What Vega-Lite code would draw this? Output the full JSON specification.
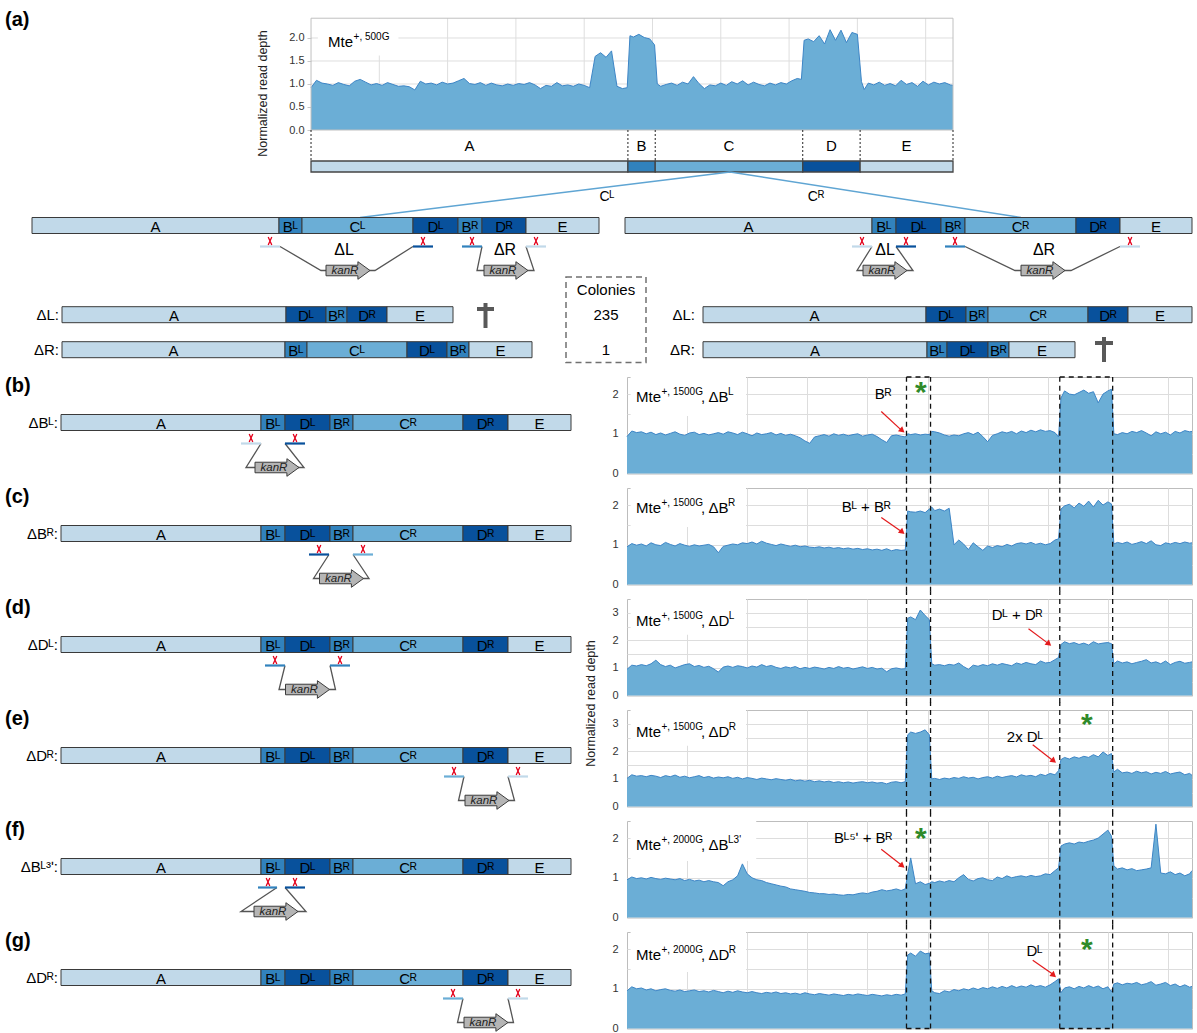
{
"$schema":"https://vega.github.io/schema/vega-lite/v6.json",
"padding":0,
"background":"white",
"config":{"font":"Liberation Sans","view":{"stroke":null},"axis":{"labelFontSize":11,"labelColor":"#333","gridColor":"#dddddd","domain":false,"ticks":false,"labelFont":"Liberation Sans"},"text":{"fontSize":15}},
"datasets":{
"ca":[{"x":0,"y":0.92},{"x":8,"y":1.08},{"x":16,"y":1.02},{"x":24,"y":1.0},{"x":32,"y":0.97},{"x":40,"y":1.03},{"x":48,"y":0.99},{"x":56,"y":0.96},{"x":64,"y":1.06},{"x":72,"y":1.1},{"x":80,"y":1.04},{"x":88,"y":0.98},{"x":96,"y":1.01},{"x":104,"y":0.97},{"x":112,"y":1.03},{"x":120,"y":0.99},{"x":128,"y":0.95},{"x":136,"y":0.96},{"x":144,"y":0.94},{"x":152,"y":0.87},{"x":160,"y":1.06},{"x":168,"y":1.0},{"x":176,"y":1.02},{"x":184,"y":0.98},{"x":192,"y":1.04},{"x":200,"y":1.0},{"x":208,"y":1.02},{"x":216,"y":1.07},{"x":224,"y":1.12},{"x":232,"y":1.01},{"x":240,"y":0.99},{"x":248,"y":1.03},{"x":256,"y":0.97},{"x":264,"y":1.02},{"x":272,"y":0.98},{"x":280,"y":0.96},{"x":288,"y":1.0},{"x":296,"y":0.97},{"x":304,"y":1.01},{"x":312,"y":0.99},{"x":320,"y":1.03},{"x":328,"y":0.98},{"x":336,"y":0.9},{"x":344,"y":0.97},{"x":352,"y":0.95},{"x":360,"y":1.03},{"x":368,"y":0.96},{"x":376,"y":0.98},{"x":384,"y":0.95},{"x":392,"y":1.0},{"x":400,"y":0.97},{"x":408,"y":0.92},{"x":416,"y":1.6},{"x":424,"y":1.68},{"x":432,"y":1.58},{"x":440,"y":1.72},{"x":448,"y":0.95},{"x":456,"y":0.9},{"x":463,"y":0.92},{"x":467,"y":2.05},{"x":472,"y":2.02},{"x":480,"y":2.08},{"x":488,"y":2.01},{"x":496,"y":1.98},{"x":503,"y":1.85},{"x":507,"y":1.0},{"x":512,"y":0.95},{"x":520,"y":0.99},{"x":528,"y":1.02},{"x":536,"y":0.97},{"x":544,"y":1.04},{"x":552,"y":1.0},{"x":560,"y":1.16},{"x":568,"y":1.01},{"x":576,"y":0.9},{"x":584,"y":0.98},{"x":592,"y":0.96},{"x":600,"y":1.02},{"x":608,"y":0.97},{"x":616,"y":1.05},{"x":624,"y":1.0},{"x":632,"y":1.07},{"x":640,"y":0.98},{"x":648,"y":1.04},{"x":656,"y":0.99},{"x":664,"y":0.96},{"x":672,"y":1.02},{"x":680,"y":0.98},{"x":688,"y":1.03},{"x":696,"y":1.0},{"x":704,"y":1.07},{"x":712,"y":1.12},{"x":718,"y":1.1},{"x":722,"y":1.95},{"x":728,"y":1.98},{"x":736,"y":1.92},{"x":744,"y":2.05},{"x":752,"y":1.87},{"x":760,"y":2.18},{"x":768,"y":1.95},{"x":776,"y":2.17},{"x":784,"y":1.9},{"x":792,"y":2.12},{"x":800,"y":2.08},{"x":806,"y":1.05},{"x":810,"y":0.88},{"x":816,"y":1.02},{"x":824,"y":0.98},{"x":832,"y":1.04},{"x":840,"y":0.97},{"x":848,"y":1.01},{"x":856,"y":0.96},{"x":864,"y":1.08},{"x":872,"y":0.99},{"x":880,"y":1.03},{"x":888,"y":0.95},{"x":896,"y":1.06},{"x":904,"y":0.98},{"x":912,"y":1.04},{"x":920,"y":1.0},{"x":928,"y":1.03},{"x":936,"y":0.98},{"x":940,"y":0.97}],
"cb":[{"x":0,"y":0.93},{"x":8,"y":1.07},{"x":16,"y":1.03},{"x":24,"y":1.05},{"x":32,"y":1.0},{"x":40,"y":1.04},{"x":48,"y":0.98},{"x":56,"y":1.02},{"x":64,"y":0.97},{"x":72,"y":1.01},{"x":80,"y":1.05},{"x":88,"y":0.99},{"x":96,"y":0.96},{"x":104,"y":1.02},{"x":112,"y":1.04},{"x":120,"y":0.98},{"x":128,"y":1.01},{"x":136,"y":0.97},{"x":144,"y":1.0},{"x":152,"y":1.03},{"x":160,"y":0.99},{"x":168,"y":1.05},{"x":176,"y":1.02},{"x":184,"y":0.98},{"x":192,"y":1.04},{"x":200,"y":1.0},{"x":208,"y":0.95},{"x":216,"y":1.02},{"x":224,"y":0.98},{"x":232,"y":1.0},{"x":240,"y":1.03},{"x":248,"y":0.97},{"x":256,"y":1.01},{"x":264,"y":0.96},{"x":272,"y":0.99},{"x":280,"y":0.95},{"x":288,"y":0.9},{"x":296,"y":0.82},{"x":304,"y":0.76},{"x":312,"y":0.92},{"x":320,"y":0.95},{"x":328,"y":0.98},{"x":336,"y":0.94},{"x":344,"y":1.0},{"x":352,"y":0.96},{"x":360,"y":0.99},{"x":368,"y":0.95},{"x":376,"y":0.98},{"x":384,"y":1.0},{"x":392,"y":0.94},{"x":400,"y":0.97},{"x":408,"y":0.99},{"x":416,"y":0.93},{"x":424,"y":0.85},{"x":432,"y":0.78},{"x":440,"y":0.95},{"x":448,"y":0.97},{"x":456,"y":0.94},{"x":463,"y":0.92},{"x":467,"y":1.0},{"x":472,"y":0.98},{"x":480,"y":1.0},{"x":488,"y":0.97},{"x":496,"y":0.99},{"x":503,"y":0.98},{"x":507,"y":1.06},{"x":512,"y":1.05},{"x":520,"y":1.02},{"x":528,"y":0.97},{"x":536,"y":0.94},{"x":544,"y":0.97},{"x":552,"y":0.95},{"x":560,"y":1.0},{"x":568,"y":1.03},{"x":576,"y":0.98},{"x":584,"y":1.04},{"x":592,"y":0.93},{"x":600,"y":0.8},{"x":608,"y":0.96},{"x":616,"y":1.0},{"x":624,"y":1.05},{"x":632,"y":1.02},{"x":640,"y":1.06},{"x":648,"y":1.0},{"x":656,"y":1.07},{"x":664,"y":1.03},{"x":672,"y":1.09},{"x":680,"y":1.05},{"x":688,"y":1.1},{"x":696,"y":1.06},{"x":704,"y":1.08},{"x":712,"y":1.03},{"x":718,"y":0.92},{"x":722,"y":1.9},{"x":728,"y":2.08},{"x":736,"y":2.0},{"x":744,"y":1.98},{"x":752,"y":2.04},{"x":760,"y":2.1},{"x":768,"y":2.02},{"x":776,"y":2.06},{"x":784,"y":1.78},{"x":792,"y":2.0},{"x":800,"y":2.08},{"x":806,"y":2.12},{"x":810,"y":1.0},{"x":816,"y":0.98},{"x":824,"y":1.03},{"x":832,"y":1.0},{"x":840,"y":1.06},{"x":848,"y":1.03},{"x":856,"y":1.08},{"x":864,"y":1.02},{"x":872,"y":0.95},{"x":880,"y":1.05},{"x":888,"y":1.0},{"x":896,"y":1.04},{"x":904,"y":0.97},{"x":912,"y":1.06},{"x":920,"y":1.02},{"x":928,"y":1.08},{"x":936,"y":1.05},{"x":940,"y":1.06}],
"cc":[{"x":0,"y":0.95},{"x":8,"y":1.03},{"x":16,"y":0.99},{"x":24,"y":1.02},{"x":32,"y":0.97},{"x":40,"y":1.05},{"x":48,"y":1.0},{"x":56,"y":0.98},{"x":64,"y":1.06},{"x":72,"y":1.01},{"x":80,"y":0.97},{"x":88,"y":1.03},{"x":96,"y":0.99},{"x":104,"y":0.96},{"x":112,"y":1.0},{"x":120,"y":0.97},{"x":128,"y":0.99},{"x":136,"y":1.01},{"x":144,"y":0.95},{"x":152,"y":0.8},{"x":160,"y":0.96},{"x":168,"y":0.99},{"x":176,"y":1.02},{"x":184,"y":1.0},{"x":192,"y":1.05},{"x":200,"y":1.03},{"x":208,"y":1.07},{"x":216,"y":1.02},{"x":224,"y":1.09},{"x":232,"y":1.04},{"x":240,"y":1.01},{"x":248,"y":0.98},{"x":256,"y":1.02},{"x":264,"y":0.99},{"x":272,"y":0.96},{"x":280,"y":0.99},{"x":288,"y":0.95},{"x":296,"y":0.97},{"x":304,"y":0.94},{"x":312,"y":0.93},{"x":320,"y":0.95},{"x":328,"y":0.92},{"x":336,"y":0.94},{"x":344,"y":0.91},{"x":352,"y":0.93},{"x":360,"y":0.9},{"x":368,"y":0.92},{"x":376,"y":0.89},{"x":384,"y":0.91},{"x":392,"y":0.88},{"x":400,"y":0.9},{"x":408,"y":0.87},{"x":416,"y":0.89},{"x":424,"y":0.86},{"x":432,"y":0.9},{"x":440,"y":0.85},{"x":448,"y":0.88},{"x":456,"y":0.86},{"x":463,"y":0.87},{"x":467,"y":1.85},{"x":472,"y":1.83},{"x":480,"y":1.82},{"x":488,"y":1.85},{"x":496,"y":1.81},{"x":503,"y":1.9},{"x":507,"y":1.95},{"x":512,"y":1.86},{"x":520,"y":1.9},{"x":528,"y":1.85},{"x":536,"y":1.92},{"x":544,"y":1.0},{"x":552,"y":1.12},{"x":560,"y":1.02},{"x":568,"y":0.88},{"x":576,"y":1.05},{"x":584,"y":0.95},{"x":592,"y":0.86},{"x":600,"y":0.97},{"x":608,"y":0.93},{"x":616,"y":0.98},{"x":624,"y":0.95},{"x":632,"y":1.01},{"x":640,"y":0.97},{"x":648,"y":1.03},{"x":656,"y":1.05},{"x":664,"y":1.02},{"x":672,"y":1.06},{"x":680,"y":1.01},{"x":688,"y":1.04},{"x":696,"y":1.0},{"x":704,"y":1.03},{"x":712,"y":1.12},{"x":718,"y":1.15},{"x":722,"y":1.9},{"x":728,"y":1.98},{"x":736,"y":2.02},{"x":744,"y":1.93},{"x":752,"y":2.05},{"x":760,"y":1.97},{"x":768,"y":2.1},{"x":776,"y":1.95},{"x":784,"y":2.12},{"x":792,"y":2.0},{"x":800,"y":2.08},{"x":806,"y":2.03},{"x":810,"y":1.02},{"x":816,"y":1.06},{"x":824,"y":1.03},{"x":832,"y":1.07},{"x":840,"y":1.01},{"x":848,"y":1.04},{"x":856,"y":1.08},{"x":864,"y":1.03},{"x":872,"y":1.1},{"x":880,"y":1.0},{"x":888,"y":0.98},{"x":896,"y":1.05},{"x":904,"y":1.02},{"x":912,"y":1.06},{"x":920,"y":1.03},{"x":928,"y":1.07},{"x":936,"y":1.04},{"x":940,"y":1.05}],
"cd":[{"x":0,"y":0.95},{"x":8,"y":1.1},{"x":16,"y":1.07},{"x":24,"y":1.12},{"x":32,"y":1.08},{"x":40,"y":1.15},{"x":48,"y":1.28},{"x":56,"y":1.12},{"x":64,"y":1.05},{"x":72,"y":1.1},{"x":80,"y":1.0},{"x":88,"y":1.06},{"x":96,"y":1.12},{"x":104,"y":1.15},{"x":112,"y":1.05},{"x":120,"y":1.09},{"x":128,"y":1.02},{"x":136,"y":1.06},{"x":144,"y":0.97},{"x":152,"y":0.85},{"x":160,"y":1.03},{"x":168,"y":1.07},{"x":176,"y":1.02},{"x":184,"y":1.08},{"x":192,"y":1.05},{"x":200,"y":1.0},{"x":208,"y":1.07},{"x":216,"y":1.03},{"x":224,"y":1.12},{"x":232,"y":1.05},{"x":240,"y":1.09},{"x":248,"y":1.02},{"x":256,"y":0.98},{"x":264,"y":1.04},{"x":272,"y":1.0},{"x":280,"y":1.05},{"x":288,"y":0.97},{"x":296,"y":1.02},{"x":304,"y":0.98},{"x":312,"y":1.03},{"x":320,"y":1.0},{"x":328,"y":0.96},{"x":336,"y":1.02},{"x":344,"y":0.98},{"x":352,"y":1.05},{"x":360,"y":0.99},{"x":368,"y":1.02},{"x":376,"y":0.96},{"x":384,"y":1.0},{"x":392,"y":1.04},{"x":400,"y":0.98},{"x":408,"y":1.02},{"x":416,"y":0.96},{"x":424,"y":0.99},{"x":432,"y":0.86},{"x":440,"y":0.97},{"x":448,"y":1.0},{"x":456,"y":0.96},{"x":463,"y":0.97},{"x":467,"y":2.8},{"x":472,"y":2.85},{"x":480,"y":2.75},{"x":488,"y":3.1},{"x":496,"y":2.9},{"x":503,"y":2.75},{"x":507,"y":1.15},{"x":512,"y":1.1},{"x":520,"y":1.12},{"x":528,"y":1.08},{"x":536,"y":1.13},{"x":544,"y":1.1},{"x":552,"y":1.18},{"x":560,"y":1.05},{"x":568,"y":0.95},{"x":576,"y":1.1},{"x":584,"y":1.06},{"x":592,"y":1.12},{"x":600,"y":1.08},{"x":608,"y":1.15},{"x":616,"y":1.1},{"x":624,"y":1.16},{"x":632,"y":1.12},{"x":640,"y":1.08},{"x":648,"y":1.18},{"x":656,"y":1.13},{"x":664,"y":1.2},{"x":672,"y":1.15},{"x":680,"y":1.12},{"x":688,"y":1.25},{"x":696,"y":1.18},{"x":704,"y":1.2},{"x":712,"y":1.3},{"x":718,"y":1.38},{"x":722,"y":1.85},{"x":728,"y":1.95},{"x":736,"y":1.88},{"x":744,"y":1.92},{"x":752,"y":1.85},{"x":760,"y":1.9},{"x":768,"y":1.83},{"x":776,"y":1.95},{"x":784,"y":1.87},{"x":792,"y":1.9},{"x":800,"y":1.92},{"x":806,"y":1.88},{"x":810,"y":1.15},{"x":816,"y":1.25},{"x":824,"y":1.18},{"x":832,"y":1.22},{"x":840,"y":1.15},{"x":848,"y":1.2},{"x":856,"y":1.24},{"x":864,"y":1.3},{"x":872,"y":1.18},{"x":880,"y":1.22},{"x":888,"y":1.15},{"x":896,"y":1.25},{"x":904,"y":1.12},{"x":912,"y":1.2},{"x":920,"y":1.24},{"x":928,"y":1.17},{"x":936,"y":1.2},{"x":940,"y":1.22}],
"ce":[{"x":0,"y":1.02},{"x":8,"y":1.15},{"x":16,"y":1.1},{"x":24,"y":1.12},{"x":32,"y":1.08},{"x":40,"y":1.13},{"x":48,"y":1.1},{"x":56,"y":1.05},{"x":64,"y":1.12},{"x":72,"y":1.08},{"x":80,"y":1.14},{"x":88,"y":1.06},{"x":96,"y":1.1},{"x":104,"y":1.04},{"x":112,"y":1.08},{"x":120,"y":1.12},{"x":128,"y":1.05},{"x":136,"y":1.09},{"x":144,"y":1.03},{"x":152,"y":1.07},{"x":160,"y":1.04},{"x":168,"y":1.08},{"x":176,"y":1.02},{"x":184,"y":1.06},{"x":192,"y":1.0},{"x":200,"y":1.05},{"x":208,"y":1.02},{"x":216,"y":0.98},{"x":224,"y":1.03},{"x":232,"y":1.0},{"x":240,"y":0.97},{"x":248,"y":1.01},{"x":256,"y":0.98},{"x":264,"y":0.95},{"x":272,"y":0.99},{"x":280,"y":0.93},{"x":288,"y":0.96},{"x":296,"y":0.92},{"x":304,"y":0.95},{"x":312,"y":0.9},{"x":320,"y":0.93},{"x":328,"y":0.89},{"x":336,"y":0.92},{"x":344,"y":0.87},{"x":352,"y":0.9},{"x":360,"y":0.86},{"x":368,"y":0.89},{"x":376,"y":0.85},{"x":384,"y":0.88},{"x":392,"y":0.9},{"x":400,"y":0.86},{"x":408,"y":0.89},{"x":416,"y":0.85},{"x":424,"y":0.87},{"x":432,"y":0.82},{"x":440,"y":0.88},{"x":448,"y":0.9},{"x":456,"y":0.86},{"x":463,"y":0.9},{"x":467,"y":2.6},{"x":472,"y":2.7},{"x":480,"y":2.65},{"x":488,"y":2.7},{"x":496,"y":2.78},{"x":503,"y":2.6},{"x":507,"y":1.0},{"x":512,"y":1.02},{"x":520,"y":0.98},{"x":528,"y":1.03},{"x":536,"y":1.0},{"x":544,"y":1.05},{"x":552,"y":1.02},{"x":560,"y":1.08},{"x":568,"y":1.03},{"x":576,"y":1.06},{"x":584,"y":1.0},{"x":592,"y":1.05},{"x":600,"y":1.08},{"x":608,"y":1.03},{"x":616,"y":1.1},{"x":624,"y":1.05},{"x":632,"y":1.09},{"x":640,"y":1.12},{"x":648,"y":1.07},{"x":656,"y":1.15},{"x":664,"y":1.1},{"x":672,"y":1.13},{"x":680,"y":1.08},{"x":688,"y":1.17},{"x":696,"y":1.12},{"x":704,"y":1.2},{"x":712,"y":1.15},{"x":718,"y":1.3},{"x":722,"y":1.7},{"x":728,"y":1.78},{"x":736,"y":1.72},{"x":744,"y":1.8},{"x":752,"y":1.75},{"x":760,"y":1.82},{"x":768,"y":1.78},{"x":776,"y":1.88},{"x":784,"y":1.8},{"x":792,"y":1.98},{"x":800,"y":1.85},{"x":806,"y":1.92},{"x":810,"y":1.25},{"x":816,"y":1.35},{"x":824,"y":1.22},{"x":832,"y":1.25},{"x":840,"y":1.2},{"x":848,"y":1.28},{"x":856,"y":1.22},{"x":864,"y":1.26},{"x":872,"y":1.18},{"x":880,"y":1.24},{"x":888,"y":1.2},{"x":896,"y":1.27},{"x":904,"y":1.18},{"x":912,"y":1.22},{"x":920,"y":1.25},{"x":928,"y":1.15},{"x":936,"y":1.2},{"x":940,"y":1.13}],
"cf":[{"x":0,"y":0.95},{"x":8,"y":1.02},{"x":16,"y":0.98},{"x":24,"y":1.0},{"x":32,"y":0.97},{"x":40,"y":1.01},{"x":48,"y":0.98},{"x":56,"y":0.96},{"x":64,"y":0.99},{"x":72,"y":0.97},{"x":80,"y":0.95},{"x":88,"y":0.98},{"x":96,"y":0.93},{"x":104,"y":0.96},{"x":112,"y":0.92},{"x":120,"y":0.94},{"x":128,"y":0.9},{"x":136,"y":0.93},{"x":144,"y":0.9},{"x":152,"y":0.88},{"x":160,"y":0.8},{"x":168,"y":0.9},{"x":176,"y":0.95},{"x":184,"y":1.05},{"x":192,"y":1.35},{"x":200,"y":1.1},{"x":208,"y":1.0},{"x":216,"y":0.95},{"x":224,"y":0.93},{"x":232,"y":0.88},{"x":240,"y":0.85},{"x":248,"y":0.82},{"x":256,"y":0.79},{"x":264,"y":0.77},{"x":272,"y":0.72},{"x":280,"y":0.7},{"x":288,"y":0.68},{"x":296,"y":0.66},{"x":304,"y":0.63},{"x":312,"y":0.62},{"x":320,"y":0.6},{"x":328,"y":0.6},{"x":336,"y":0.58},{"x":344,"y":0.59},{"x":352,"y":0.57},{"x":360,"y":0.56},{"x":368,"y":0.58},{"x":376,"y":0.57},{"x":384,"y":0.6},{"x":392,"y":0.62},{"x":400,"y":0.6},{"x":408,"y":0.64},{"x":416,"y":0.66},{"x":424,"y":0.7},{"x":432,"y":0.67},{"x":440,"y":0.69},{"x":448,"y":0.72},{"x":456,"y":0.68},{"x":463,"y":0.72},{"x":467,"y":1.1},{"x":472,"y":1.5},{"x":480,"y":0.85},{"x":488,"y":0.9},{"x":496,"y":0.83},{"x":503,"y":0.86},{"x":507,"y":0.9},{"x":512,"y":0.88},{"x":520,"y":0.92},{"x":528,"y":0.89},{"x":536,"y":0.93},{"x":544,"y":0.9},{"x":552,"y":1.0},{"x":560,"y":1.08},{"x":568,"y":0.96},{"x":576,"y":0.92},{"x":584,"y":0.98},{"x":592,"y":1.0},{"x":600,"y":0.95},{"x":608,"y":0.93},{"x":616,"y":1.02},{"x":624,"y":0.98},{"x":632,"y":1.05},{"x":640,"y":1.0},{"x":648,"y":1.03},{"x":656,"y":1.05},{"x":664,"y":1.02},{"x":672,"y":1.06},{"x":680,"y":1.03},{"x":688,"y":1.05},{"x":696,"y":1.1},{"x":704,"y":1.08},{"x":712,"y":1.18},{"x":718,"y":1.25},{"x":722,"y":1.8},{"x":728,"y":1.85},{"x":736,"y":1.88},{"x":744,"y":1.85},{"x":752,"y":1.9},{"x":760,"y":1.88},{"x":768,"y":1.92},{"x":776,"y":1.95},{"x":784,"y":2.0},{"x":792,"y":2.1},{"x":800,"y":2.2},{"x":806,"y":2.05},{"x":810,"y":1.3},{"x":816,"y":1.22},{"x":824,"y":1.25},{"x":832,"y":1.2},{"x":840,"y":1.23},{"x":848,"y":1.18},{"x":856,"y":1.2},{"x":864,"y":1.22},{"x":872,"y":1.25},{"x":880,"y":2.35},{"x":888,"y":1.12},{"x":896,"y":1.1},{"x":904,"y":1.15},{"x":912,"y":1.08},{"x":920,"y":1.12},{"x":928,"y":1.05},{"x":936,"y":1.1},{"x":940,"y":1.18}],
"cg":[{"x":0,"y":0.95},{"x":8,"y":1.05},{"x":16,"y":1.0},{"x":24,"y":1.02},{"x":32,"y":0.97},{"x":40,"y":1.0},{"x":48,"y":0.95},{"x":56,"y":0.98},{"x":64,"y":1.0},{"x":72,"y":0.96},{"x":80,"y":0.94},{"x":88,"y":0.97},{"x":96,"y":0.93},{"x":104,"y":0.95},{"x":112,"y":0.97},{"x":120,"y":0.93},{"x":128,"y":0.95},{"x":136,"y":0.92},{"x":144,"y":0.96},{"x":152,"y":0.93},{"x":160,"y":0.9},{"x":168,"y":0.94},{"x":176,"y":0.91},{"x":184,"y":0.95},{"x":192,"y":0.92},{"x":200,"y":0.9},{"x":208,"y":0.93},{"x":216,"y":0.9},{"x":224,"y":0.88},{"x":232,"y":0.91},{"x":240,"y":0.89},{"x":248,"y":0.92},{"x":256,"y":0.88},{"x":264,"y":0.9},{"x":272,"y":0.87},{"x":280,"y":0.89},{"x":288,"y":0.86},{"x":296,"y":0.9},{"x":304,"y":0.87},{"x":312,"y":0.85},{"x":320,"y":0.88},{"x":328,"y":0.86},{"x":336,"y":0.84},{"x":344,"y":0.87},{"x":352,"y":0.85},{"x":360,"y":0.83},{"x":368,"y":0.86},{"x":376,"y":0.84},{"x":384,"y":0.87},{"x":392,"y":0.85},{"x":400,"y":0.83},{"x":408,"y":0.86},{"x":416,"y":0.84},{"x":424,"y":0.82},{"x":432,"y":0.85},{"x":440,"y":0.83},{"x":448,"y":0.86},{"x":456,"y":0.84},{"x":463,"y":0.87},{"x":467,"y":1.85},{"x":472,"y":1.9},{"x":480,"y":1.82},{"x":488,"y":1.95},{"x":496,"y":1.88},{"x":503,"y":1.9},{"x":507,"y":0.95},{"x":512,"y":0.9},{"x":520,"y":0.88},{"x":528,"y":0.95},{"x":536,"y":0.92},{"x":544,"y":0.98},{"x":552,"y":0.95},{"x":560,"y":1.0},{"x":568,"y":0.97},{"x":576,"y":1.02},{"x":584,"y":0.98},{"x":592,"y":1.03},{"x":600,"y":1.0},{"x":608,"y":1.05},{"x":616,"y":1.01},{"x":624,"y":1.06},{"x":632,"y":1.02},{"x":640,"y":1.08},{"x":648,"y":1.03},{"x":656,"y":1.07},{"x":664,"y":1.04},{"x":672,"y":1.1},{"x":680,"y":1.05},{"x":688,"y":1.08},{"x":696,"y":1.04},{"x":704,"y":1.1},{"x":712,"y":1.18},{"x":718,"y":1.25},{"x":722,"y":0.9},{"x":728,"y":1.02},{"x":736,"y":1.05},{"x":744,"y":1.0},{"x":752,"y":1.06},{"x":760,"y":1.02},{"x":768,"y":1.08},{"x":776,"y":1.03},{"x":784,"y":1.07},{"x":792,"y":1.0},{"x":800,"y":1.05},{"x":806,"y":0.92},{"x":810,"y":1.12},{"x":816,"y":1.15},{"x":824,"y":1.1},{"x":832,"y":1.14},{"x":840,"y":1.12},{"x":848,"y":1.16},{"x":856,"y":1.1},{"x":864,"y":1.13},{"x":872,"y":1.18},{"x":880,"y":1.09},{"x":888,"y":1.12},{"x":896,"y":1.16},{"x":904,"y":1.08},{"x":912,"y":1.12},{"x":920,"y":1.05},{"x":928,"y":1.1},{"x":936,"y":1.04},{"x":940,"y":1.06}],
"segA":[
{"x":32,"xe":279,"y":45.5,"ye":61.5,"c":"lt","l":"A"},{"x":279,"xe":302,"y":45.5,"ye":61.5,"c":"b","l":"Bᴸ"},{"x":302,"xe":413,"y":45.5,"ye":61.5,"c":"c","l":"Cᴸ"},{"x":413,"xe":458,"y":45.5,"ye":61.5,"c":"d","l":"Dᴸ"},{"x":458,"xe":482,"y":45.5,"ye":61.5,"c":"b","l":"Bᴿ"},{"x":482,"xe":526,"y":45.5,"ye":61.5,"c":"d","l":"Dᴿ"},{"x":526,"xe":599,"y":45.5,"ye":61.5,"c":"lt","l":"E"},
{"x":625,"xe":872,"y":45.5,"ye":61.5,"c":"lt","l":"A"},{"x":872,"xe":896,"y":45.5,"ye":61.5,"c":"b","l":"Bᴸ"},{"x":896,"xe":941,"y":45.5,"ye":61.5,"c":"d","l":"Dᴸ"},{"x":941,"xe":965,"y":45.5,"ye":61.5,"c":"b","l":"Bᴿ"},{"x":965,"xe":1076,"y":45.5,"ye":61.5,"c":"c","l":"Cᴿ"},{"x":1076,"xe":1120,"y":45.5,"ye":61.5,"c":"d","l":"Dᴿ"},{"x":1120,"xe":1192,"y":45.5,"ye":61.5,"c":"lt","l":"E"},
{"x":62,"xe":286,"y":134.7,"ye":150.7,"c":"lt","l":"A"},{"x":286,"xe":326,"y":134.7,"ye":150.7,"c":"d","l":"Dᴸ"},{"x":326,"xe":347,"y":134.7,"ye":150.7,"c":"b","l":"Bᴿ"},{"x":347,"xe":387,"y":134.7,"ye":150.7,"c":"d","l":"Dᴿ"},{"x":387,"xe":453,"y":134.7,"ye":150.7,"c":"lt","l":"E"},
{"x":62,"xe":285,"y":169.7,"ye":185.7,"c":"lt","l":"A"},{"x":285,"xe":307,"y":169.7,"ye":185.7,"c":"b","l":"Bᴸ"},{"x":307,"xe":407,"y":169.7,"ye":185.7,"c":"c","l":"Cᴸ"},{"x":407,"xe":447,"y":169.7,"ye":185.7,"c":"d","l":"Dᴸ"},{"x":447,"xe":469,"y":169.7,"ye":185.7,"c":"b","l":"Bᴿ"},{"x":469,"xe":532,"y":169.7,"ye":185.7,"c":"lt","l":"E"},
{"x":703,"xe":926,"y":134.7,"ye":150.7,"c":"lt","l":"A"},{"x":926,"xe":966,"y":134.7,"ye":150.7,"c":"d","l":"Dᴸ"},{"x":966,"xe":988,"y":134.7,"ye":150.7,"c":"b","l":"Bᴿ"},{"x":988,"xe":1088,"y":134.7,"ye":150.7,"c":"c","l":"Cᴿ"},{"x":1088,"xe":1128,"y":134.7,"ye":150.7,"c":"d","l":"Dᴿ"},{"x":1128,"xe":1192,"y":134.7,"ye":150.7,"c":"lt","l":"E"},
{"x":703,"xe":927,"y":169.7,"ye":185.7,"c":"lt","l":"A"},{"x":927,"xe":947,"y":169.7,"ye":185.7,"c":"b","l":"Bᴸ"},{"x":947,"xe":988,"y":169.7,"ye":185.7,"c":"d","l":"Dᴸ"},{"x":988,"xe":1009,"y":169.7,"ye":185.7,"c":"b","l":"Bᴿ"},{"x":1009,"xe":1075,"y":169.7,"ye":185.7,"c":"lt","l":"E"}],
"segR":[{"x":61,"xe":261,"y":37.5,"ye":53.5,"c":"lt","l":"A"},{"x":261,"xe":285,"y":37.5,"ye":53.5,"c":"b","l":"Bᴸ"},{"x":285,"xe":330,"y":37.5,"ye":53.5,"c":"d","l":"Dᴸ"},{"x":330,"xe":353,"y":37.5,"ye":53.5,"c":"b","l":"Bᴿ"},{"x":353,"xe":463,"y":37.5,"ye":53.5,"c":"c","l":"Cᴿ"},{"x":463,"xe":508,"y":37.5,"ye":53.5,"c":"d","l":"Dᴿ"},{"x":508,"xe":571,"y":37.5,"ye":53.5,"c":"lt","l":"E"}]
},
"spacing":0,
"bounds":"flush",
"vconcat":[
{
"width":953,"height":172,
"data":{"values":[
{"k":"gv","x":100,"y":0,"ye":2.43},{"k":"gv","x":200,"y":0,"ye":2.43},{"k":"gv","x":300,"y":0,"ye":2.43},{"k":"gv","x":400,"y":0,"ye":2.43},{"k":"gv","x":500,"y":0,"ye":2.43},{"k":"gv","x":600,"y":0,"ye":2.43},{"k":"gv","x":700,"y":0,"ye":2.43},{"k":"gv","x":800,"y":0,"ye":2.43},{"k":"gv","x":900,"y":0,"ye":2.43},
{"k":"gh","x":0,"xe":940,"y":0.5},{"k":"gh","x":0,"xe":940,"y":1},{"k":"gh","x":0,"xe":940,"y":1.5},{"k":"gh","x":0,"xe":940,"y":2},
{"k":"bx","x":10,"xe":128,"y":1.62,"ye":2.42},
{"k":"fr","x":0,"xe":940,"y":0,"ye":2.43},
{"k":"m1","x":25,"y":1.91,"t":"Mte"},{"k":"m2","x":25,"y":1.91,"t":"+, 500G"},
{"k":"sg","x":0,"xe":464,"y":-0.674,"ye":-0.913,"c":"lt"},{"k":"sg","x":464,"xe":504,"y":-0.674,"ye":-0.913,"c":"b"},{"k":"sg","x":504,"xe":720,"y":-0.674,"ye":-0.913,"c":"c"},{"k":"sg","x":720,"xe":804,"y":-0.674,"ye":-0.913,"c":"d"},{"k":"sg","x":804,"xe":940,"y":-0.674,"ye":-0.913,"c":"lt"},
{"k":"sl","x":232,"y":-0.35,"t":"A"},{"k":"sl","x":484,"y":-0.35,"t":"B"},{"k":"sl","x":612,"y":-0.35,"t":"C"},{"k":"sl","x":762,"y":-0.35,"t":"D"},{"k":"sl","x":872,"y":-0.35,"t":"E"},
{"k":"dv","x":0,"y":0,"ye":-0.674},{"k":"dv","x":464,"y":0,"ye":-0.674},{"k":"dv","x":504,"y":0,"ye":-0.674},{"k":"dv","x":720,"y":0,"ye":-0.674},{"k":"dv","x":804,"y":0,"ye":-0.674},{"k":"dv","x":940,"y":0,"ye":-0.674},
{"k":"pl","x":-448,"y":2.39,"t":"(a)"}
]},
"encoding":{
"x":{"field":"x","type":"quantitative","scale":{"domain":[-455.4,940],"nice":false,"zero":false},"axis":null},
"y":{"field":"y","type":"quantitative","scale":{"domain":[-0.913,2.826],"nice":false,"zero":false},"axis":{"values":[0,0.5,1,1.5,2],"format":".1f","offset":-311,"ticks":true,"tickSize":4,"tickColor":"#c8c8c8","grid":false,"labelPadding":3,"title":"Normalized read depth","titleFontSize":12.5,"titleFontWeight":"normal","titleColor":"#222","titleX":-49,"titleY":93,"titleBaseline":"middle","titleAlign":"center","titleAngle":-90}}
},
"layer":[
{"transform":[{"filter":"datum.k==='gv'"}],"mark":{"type":"rule","color":"#dedede"},"encoding":{"y2":{"field":"ye"}}},
{"transform":[{"filter":"datum.k==='gh'"}],"mark":{"type":"rule","color":"#dedede"},"encoding":{"x2":{"field":"xe"}}},
{"transform":[{"filter":"datum.k==='bx'"}],"mark":{"type":"rect","fill":"white"},"encoding":{"x2":{"field":"xe"},"y2":{"field":"ye"}}},
{"data":{"name":"ca"},"mark":{"type":"area","color":"#6baed6","opacity":1,"line":{"color":"#3d85c6","strokeWidth":1}},"encoding":{"y2":{"datum":0}}},
{"transform":[{"filter":"datum.k==='fr'"}],"mark":{"type":"rect","fillOpacity":0,"stroke":"#c0c0c0","strokeWidth":1},"encoding":{"x2":{"field":"xe"},"y2":{"field":"ye"}}},
{"transform":[{"filter":"datum.k==='m1'"}],"mark":{"type":"text","align":"left","fontSize":15},"encoding":{"text":{"field":"t"}}},
{"transform":[{"filter":"datum.k==='m2'"}],"mark":{"type":"text","align":"left","fontSize":10,"dx":25.5,"dy":-5},"encoding":{"text":{"field":"t"}}},
{"transform":[{"filter":"datum.k==='sg'"}],"mark":{"type":"rect","stroke":"#444","strokeWidth":1.3},"encoding":{"x2":{"field":"xe"},"y2":{"field":"ye"},"color":{"field":"c","type":"nominal","scale":{"domain":["lt","b","c","d"],"range":["#c1d9e9","#3182bd","#6baed6","#08519c"]},"legend":null}}},
{"transform":[{"filter":"datum.k==='sl'"}],"mark":{"type":"text","fontSize":15},"encoding":{"text":{"field":"t"}}},
{"transform":[{"filter":"datum.k==='dv'"}],"mark":{"type":"rule","strokeDash":[2,2],"color":"#222"},"encoding":{"y2":{"field":"ye"}}},
{"transform":[{"filter":"datum.k==='pl'"}],"mark":{"type":"text","align":"left","fontSize":20,"fontWeight":"bold"},"encoding":{"text":{"field":"t"}}}
]
},
{
"width":1197,"height":205,
"data":{"values":[
{"k":"tl","x":730,"y":0,"xe":360,"ye":45.5},{"k":"tl","x":730,"y":0,"xe":1021,"ye":45.5},
{"k":"cl","x":607,"y":25,"t":"Cᴸ"},{"k":"cl","x":816,"y":25,"t":"Cᴿ"},
{"k":"r","x":59,"y":142.7,"t":"ΔL:"},{"k":"r","x":59,"y":177.7,"t":"ΔR:"},{"k":"r","x":695,"y":142.7,"t":"ΔL:"},{"k":"r","x":695,"y":177.7,"t":"ΔR:"},
{"k":"dl","x":344,"y":78,"t":"ΔL"},{"k":"dl","x":505,"y":78,"t":"ΔR"},{"k":"dl","x":885,"y":78,"t":"ΔL"},{"k":"dl","x":1044,"y":78,"t":"ΔR"},
{"k":"l","id":1,"o":0,"x":280,"y":74.5},{"k":"l","id":1,"o":1,"x":321,"y":98.5},{"k":"l","id":1,"o":2,"x":326.5,"y":98.5},
{"k":"l","id":2,"o":0,"x":369.5,"y":98.5},{"k":"l","id":2,"o":1,"x":375,"y":98.5},{"k":"l","id":2,"o":2,"x":413,"y":74.5},
{"k":"l","id":3,"o":0,"x":482,"y":74.5},{"k":"l","id":3,"o":1,"x":477,"y":98.5},{"k":"l","id":3,"o":2,"x":484.5,"y":98.5},
{"k":"l","id":4,"o":0,"x":527.5,"y":98.5},{"k":"l","id":4,"o":1,"x":534,"y":98.5},{"k":"l","id":4,"o":2,"x":526,"y":74.5},
{"k":"l","id":5,"o":0,"x":872,"y":74.5},{"k":"l","id":5,"o":1,"x":857,"y":98.5},{"k":"l","id":5,"o":2,"x":863.5,"y":98.5},
{"k":"l","id":6,"o":0,"x":906.5,"y":98.5},{"k":"l","id":6,"o":1,"x":913,"y":98.5},{"k":"l","id":6,"o":2,"x":896,"y":74.5},
{"k":"l","id":7,"o":0,"x":965,"y":74.5},{"k":"l","id":7,"o":1,"x":1015,"y":98.5},{"k":"l","id":7,"o":2,"x":1021.5,"y":98.5},
{"k":"l","id":8,"o":0,"x":1064.5,"y":98.5},{"k":"l","id":8,"o":1,"x":1071,"y":98.5},{"k":"l","id":8,"o":2,"x":1120,"y":74.5},
{"k":"a","x":260,"xe":280,"y":74.5,"c":"lt"},{"k":"a","x":413,"xe":433,"y":74.5,"c":"d"},{"k":"a","x":462,"xe":482,"y":74.5,"c":"b"},{"k":"a","x":526,"xe":546,"y":74.5,"c":"lt"},{"k":"a","x":852,"xe":872,"y":74.5,"c":"lt"},{"k":"a","x":896,"xe":916,"y":74.5,"c":"d"},{"k":"a","x":945,"xe":965,"y":74.5,"c":"b"},{"k":"a","x":1120,"xe":1140,"y":74.5,"c":"lt"},
{"k":"x","x":270,"y":69},{"k":"x","x":423,"y":69},{"k":"x","x":472,"y":69},{"k":"x","x":536,"y":69},{"k":"x","x":862,"y":69},{"k":"x","x":906,"y":69},{"k":"x","x":955,"y":69},{"k":"x","x":1130,"y":69},
{"k":"k","x":348,"y":98.5},{"k":"k","x":506,"y":98.5},{"k":"k","x":885,"y":98.5},{"k":"k","x":1043,"y":98.5},
{"k":"dg","x":485.5,"y":131,"xe":485.5,"ye":156},{"k":"dg","x":477,"y":137,"xe":494,"ye":137},{"k":"dg","x":1104,"y":165,"xe":1104,"ye":190},{"k":"dg","x":1095,"y":171,"xe":1113,"ye":171},
{"k":"cb","x":566,"xe":646,"y":105,"ye":190.5},
{"k":"ct","x":606,"y":118,"t":"Colonies"},{"k":"ct","x":606,"y":143,"t":"235"},{"k":"ct","x":606,"y":178,"t":"1"}
]},
"encoding":{
"x":{"field":"x","type":"quantitative","scale":{"domain":[0,1197],"nice":false,"zero":false},"axis":null},
"y":{"field":"y","type":"quantitative","scale":{"domain":[0,205],"nice":false,"zero":false,"reverse":true},"axis":null}
},
"layer":[
{"transform":[{"filter":"datum.k==='tl'"}],"mark":{"type":"rule","color":"#5fa5d3","strokeWidth":1.5},"encoding":{"x2":{"field":"xe"},"y2":{"field":"ye"}}},
{"transform":[{"filter":"datum.k==='cl'"}],"mark":{"type":"text","fontSize":14},"encoding":{"text":{"field":"t"}}},
{"transform":[{"filter":"datum.k==='l'"}],"mark":{"type":"line","color":"#555","strokeWidth":1.3},"encoding":{"detail":{"field":"id"},"order":{"field":"o"}}},
{"data":{"name":"segA"},"mark":{"type":"rect","stroke":"#3a3a3a","strokeWidth":1},"encoding":{"x2":{"field":"xe"},"y2":{"field":"ye"},"color":{"field":"c","type":"nominal","scale":{"domain":["lt","b","c","d"],"range":["#c1d9e9","#3182bd","#6baed6","#08519c"]},"legend":null}}},
{"data":{"name":"segA"},"transform":[{"calculate":"(datum.x+datum.xe)/2","as":"xm"},{"calculate":"(datum.y+datum.ye)/2","as":"ym"}],"mark":{"type":"text","fontSize":15,"dy":1},"encoding":{"x":{"field":"xm","type":"quantitative","scale":{"domain":[0,1197],"nice":false,"zero":false}},"y":{"field":"ym","type":"quantitative","scale":{"domain":[0,205],"nice":false,"zero":false,"reverse":true}},"text":{"field":"l"}}},
{"transform":[{"filter":"datum.k==='r'"}],"mark":{"type":"text","align":"right","fontSize":15},"encoding":{"text":{"field":"t"}}},
{"transform":[{"filter":"datum.k==='dl'"}],"mark":{"type":"text","fontSize":16},"encoding":{"text":{"field":"t"}}},
{"transform":[{"filter":"datum.k==='a'"}],"mark":{"type":"rule","strokeWidth":2.2},"encoding":{"x2":{"field":"xe"},"color":{"field":"c","type":"nominal","scale":{"domain":["lt","b","c","d"],"range":["#c1d9e9","#3182bd","#6baed6","#08519c"]},"legend":null}}},
{"transform":[{"filter":"datum.k==='x'"}],"mark":{"type":"point","shape":"M-0.45,-1L0.45,1M0.45,-1L-0.45,1","size":64,"filled":false,"stroke":"#e3001b","strokeWidth":1.3,"opacity":1}},
{"transform":[{"filter":"datum.k==='k'"}],"mark":{"type":"point","shape":"M-1,-0.24L0.45,-0.24L0.45,-0.4L1,0L0.45,0.4L0.45,0.24L-1,0.24Z","size":1936,"filled":true,"fill":"#b5b5b5","stroke":"#3c3c3c","strokeWidth":1,"opacity":1}},
{"transform":[{"filter":"datum.k==='k'"}],"mark":{"type":"text","text":"kanR","fontSize":11.5,"fontStyle":"italic","dx":-3,"color":"#222"}},
{"transform":[{"filter":"datum.k==='dg'"}],"mark":{"type":"rule","color":"#595959","strokeWidth":4},"encoding":{"x2":{"field":"xe"},"y2":{"field":"ye"}}},
{"transform":[{"filter":"datum.k==='cb'"}],"mark":{"type":"rect","fillOpacity":0,"stroke":"#707070","strokeWidth":1.5,"strokeDash":[6,4]},"encoding":{"x2":{"field":"xe"},"y2":{"field":"ye"}}},
{"transform":[{"filter":"datum.k==='ct'"}],"mark":{"type":"text","fontSize":15},"encoding":{"text":{"field":"t"}}}
]
},
{
"columns":2,
"spacing":{"row":14,"column":27},
"bounds":"flush",
"concat":[
{"width":600,"height":96.5,
"data":{"values":[{"k":"p","x":5,"y":9,"t":"(b)"},{"k":"r","x":58,"y":45.5,"t":"ΔBᴸ:"},
{"k":"l","id":1,"o":0,"x":261,"y":66.5},{"k":"l","id":1,"o":1,"x":246,"y":90.5},{"k":"l","id":1,"o":2,"x":256,"y":90.5},
{"k":"l","id":2,"o":0,"x":298,"y":90.5},{"k":"l","id":2,"o":1,"x":304,"y":90.5},{"k":"l","id":2,"o":2,"x":285,"y":66.5},
{"k":"a","x":241,"xe":261,"y":66.5,"c":"lt"},{"k":"a","x":285,"xe":305,"y":66.5,"c":"d"},
{"k":"x","x":251,"y":61},{"k":"x","x":295,"y":61},{"k":"k","x":277,"y":90.5}]},
"encoding":{"x":{"field":"x","type":"quantitative","scale":{"domain":[0,600],"nice":false,"zero":false},"axis":null},"y":{"field":"y","type":"quantitative","scale":{"domain":[0,96.5],"nice":false,"zero":false,"reverse":true},"axis":null}},
"layer":[
{"transform":[{"filter":"datum.k==='l'"}],"mark":{"type":"line","color":"#555","strokeWidth":1.3},"encoding":{"detail":{"field":"id"},"order":{"field":"o"}}},
{"data":{"name":"segR"},"mark":{"type":"rect","stroke":"#3a3a3a","strokeWidth":1},"encoding":{"x2":{"field":"xe"},"y2":{"field":"ye"},"color":{"field":"c","type":"nominal","scale":{"domain":["lt","b","c","d"],"range":["#c1d9e9","#3182bd","#6baed6","#08519c"]},"legend":null}}},
{"data":{"name":"segR"},"transform":[{"calculate":"(datum.x+datum.xe)/2","as":"xm"},{"calculate":"(datum.y+datum.ye)/2","as":"ym"}],"mark":{"type":"text","fontSize":15,"dy":1},"encoding":{"x":{"field":"xm","type":"quantitative","scale":{"domain":[0,600],"nice":false,"zero":false}},"y":{"field":"ym","type":"quantitative","scale":{"domain":[0,96.5],"nice":false,"zero":false,"reverse":true}},"text":{"field":"l"}}},
{"transform":[{"filter":"datum.k==='p'"}],"mark":{"type":"text","align":"left","fontSize":20,"fontWeight":"bold"},"encoding":{"text":{"field":"t"}}},
{"transform":[{"filter":"datum.k==='r'"}],"mark":{"type":"text","align":"right","fontSize":15},"encoding":{"text":{"field":"t"}}},
{"transform":[{"filter":"datum.k==='a'"}],"mark":{"type":"rule","strokeWidth":2.2},"encoding":{"x2":{"field":"xe"},"color":{"field":"c","type":"nominal","scale":{"domain":["lt","b","c","d"],"range":["#c1d9e9","#3182bd","#6baed6","#08519c"]},"legend":null}}},
{"transform":[{"filter":"datum.k==='x'"}],"mark":{"type":"point","shape":"M-0.45,-1L0.45,1M0.45,-1L-0.45,1","size":64,"filled":false,"stroke":"#e3001b","strokeWidth":1.3,"opacity":1}},
{"transform":[{"filter":"datum.k==='k'"}],"mark":{"type":"point","shape":"M-1,-0.24L0.45,-0.24L0.45,-0.4L1,0L0.45,0.4L0.45,0.24L-1,0.24Z","size":1936,"filled":true,"fill":"#b5b5b5","stroke":"#3c3c3c","strokeWidth":1,"opacity":1}},
{"transform":[{"filter":"datum.k==='k'"}],"mark":{"type":"text","text":"kanR","fontSize":11.5,"fontStyle":"italic","dx":-3,"color":"#222"}}
]},
{"width":565,"height":96.5,"view":{"stroke":"#bdbdbd"},
"data":{"values":[{"k":"bx","x":6,"xe":198,"y":1.45,"ye":2.43},
{"k":"m1","x":15,"y":1.93,"t":"Mte"},{"k":"m2","x":15,"y":1.93,"t":"+, 1500G"},{"k":"m3","x":15,"y":1.93,"t":", ΔB"},{"k":"m4","x":15,"y":1.93,"t":"L"},
{"k":"v","x":465,"y":-0.18,"ye":2.43},{"k":"v","x":505,"y":-0.18,"ye":2.43},{"k":"v","x":720,"y":-0.18,"ye":2.43},{"k":"v","x":808,"y":-0.18,"ye":2.43},
{"k":"h","x":465,"xe":505,"y":2.43},{"k":"h","x":720,"xe":808,"y":2.43},
{"k":"ar","x":423,"y":1.56,"xe":456,"ye":1.1},{"k":"ah","x":458,"y":1.08},{"k":"at","x":426,"y":2.0,"t":"Bᴿ"},{"k":"st","x":489,"y":2.23}]},
"encoding":{"x":{"field":"x","type":"quantitative","scale":{"domain":[0,940],"nice":false,"zero":false},"axis":{"values":[100,200,300,400,500,600,700,800,900],"labels":false,"grid":true,"title":null}},
"y":{"field":"y","type":"quantitative","scale":{"domain":[0,2.43],"nice":false,"zero":false},"axis":{"values":[0,0.5,1,1.5,2],"format":".0f","labelExpr":"datum.value % 1 === 0 ? datum.label : ''","grid":true,"title":null,"labelPadding":9}}},
"layer":[
{"transform":[{"filter":"datum.k==='bx'"}],"mark":{"type":"rect","fill":"white"},"encoding":{"x2":{"field":"xe"},"y2":{"field":"ye"}}},
{"data":{"name":"cb"},"mark":{"type":"area","color":"#6baed6","opacity":1,"line":{"color":"#3d85c6","strokeWidth":1}}},
{"transform":[{"filter":"datum.k==='m1'"}],"mark":{"type":"text","align":"left","fontSize":15},"encoding":{"text":{"field":"t"}}},
{"transform":[{"filter":"datum.k==='m2'"}],"mark":{"type":"text","align":"left","fontSize":10,"dx":25.5,"dy":-5},"encoding":{"text":{"field":"t"}}},
{"transform":[{"filter":"datum.k==='m3'"}],"mark":{"type":"text","align":"left","fontSize":15,"dx":65},"encoding":{"text":{"field":"t"}}},
{"transform":[{"filter":"datum.k==='m4'"}],"mark":{"type":"text","align":"left","fontSize":10,"dx":92,"dy":-5},"encoding":{"text":{"field":"t"}}},
{"transform":[{"filter":"datum.k==='v'"}],"mark":{"type":"rule","strokeDash":[5,4],"color":"#111","strokeWidth":1.3},"encoding":{"y2":{"field":"ye"}}},
{"transform":[{"filter":"datum.k==='h'"}],"mark":{"type":"rule","strokeDash":[5,4],"color":"#111","strokeWidth":1.3},"encoding":{"x2":{"field":"xe"}}},
{"transform":[{"filter":"datum.k==='ar'"}],"mark":{"type":"rule","color":"#e31a1c","strokeWidth":1.2},"encoding":{"x2":{"field":"xe"},"y2":{"field":"ye"}}},
{"transform":[{"filter":"datum.k==='ah'"}],"mark":{"type":"point","shape":"triangle-right","size":45,"filled":true,"color":"#e31a1c","angle":40,"opacity":1}},
{"transform":[{"filter":"datum.k==='at'"}],"mark":{"type":"text","fontSize":15},"encoding":{"text":{"field":"t"}}},
{"transform":[{"filter":"datum.k==='st'"}],"mark":{"type":"text","text":"*","fontSize":30,"fontWeight":"bold","color":"#2f8a2a","baseline":"alphabetic","dy":17}}
]},
{"width":600,"height":96.5,
"data":{"values":[{"k":"p","x":5,"y":9,"t":"(c)"},{"k":"r","x":58,"y":45.5,"t":"ΔBᴿ:"},
{"k":"l","id":1,"o":0,"x":329,"y":66.5},{"k":"l","id":1,"o":1,"x":313.5,"y":90.5},{"k":"l","id":1,"o":2,"x":320,"y":90.5},
{"k":"l","id":2,"o":0,"x":363,"y":90.5},{"k":"l","id":2,"o":1,"x":369,"y":90.5},{"k":"l","id":2,"o":2,"x":353,"y":66.5},
{"k":"a","x":309,"xe":329,"y":66.5,"c":"d"},{"k":"a","x":353,"xe":373,"y":66.5,"c":"c"},
{"k":"x","x":319,"y":61},{"k":"x","x":363,"y":61},{"k":"k","x":341.5,"y":90.5}]},
"encoding":{"x":{"field":"x","type":"quantitative","scale":{"domain":[0,600],"nice":false,"zero":false},"axis":null},"y":{"field":"y","type":"quantitative","scale":{"domain":[0,96.5],"nice":false,"zero":false,"reverse":true},"axis":null}},
"layer":[
{"transform":[{"filter":"datum.k==='l'"}],"mark":{"type":"line","color":"#555","strokeWidth":1.3},"encoding":{"detail":{"field":"id"},"order":{"field":"o"}}},
{"data":{"name":"segR"},"mark":{"type":"rect","stroke":"#3a3a3a","strokeWidth":1},"encoding":{"x2":{"field":"xe"},"y2":{"field":"ye"},"color":{"field":"c","type":"nominal","scale":{"domain":["lt","b","c","d"],"range":["#c1d9e9","#3182bd","#6baed6","#08519c"]},"legend":null}}},
{"data":{"name":"segR"},"transform":[{"calculate":"(datum.x+datum.xe)/2","as":"xm"},{"calculate":"(datum.y+datum.ye)/2","as":"ym"}],"mark":{"type":"text","fontSize":15,"dy":1},"encoding":{"x":{"field":"xm","type":"quantitative","scale":{"domain":[0,600],"nice":false,"zero":false}},"y":{"field":"ym","type":"quantitative","scale":{"domain":[0,96.5],"nice":false,"zero":false,"reverse":true}},"text":{"field":"l"}}},
{"transform":[{"filter":"datum.k==='p'"}],"mark":{"type":"text","align":"left","fontSize":20,"fontWeight":"bold"},"encoding":{"text":{"field":"t"}}},
{"transform":[{"filter":"datum.k==='r'"}],"mark":{"type":"text","align":"right","fontSize":15},"encoding":{"text":{"field":"t"}}},
{"transform":[{"filter":"datum.k==='a'"}],"mark":{"type":"rule","strokeWidth":2.2},"encoding":{"x2":{"field":"xe"},"color":{"field":"c","type":"nominal","scale":{"domain":["lt","b","c","d"],"range":["#c1d9e9","#3182bd","#6baed6","#08519c"]},"legend":null}}},
{"transform":[{"filter":"datum.k==='x'"}],"mark":{"type":"point","shape":"M-0.45,-1L0.45,1M0.45,-1L-0.45,1","size":64,"filled":false,"stroke":"#e3001b","strokeWidth":1.3,"opacity":1}},
{"transform":[{"filter":"datum.k==='k'"}],"mark":{"type":"point","shape":"M-1,-0.24L0.45,-0.24L0.45,-0.4L1,0L0.45,0.4L0.45,0.24L-1,0.24Z","size":1936,"filled":true,"fill":"#b5b5b5","stroke":"#3c3c3c","strokeWidth":1,"opacity":1}},
{"transform":[{"filter":"datum.k==='k'"}],"mark":{"type":"text","text":"kanR","fontSize":11.5,"fontStyle":"italic","dx":-3,"color":"#222"}}
]},
{"width":565,"height":96.5,"view":{"stroke":"#bdbdbd"},
"data":{"values":[{"k":"bx","x":6,"xe":198,"y":1.45,"ye":2.43},
{"k":"m1","x":15,"y":1.92,"t":"Mte"},{"k":"m2","x":15,"y":1.92,"t":"+, 1500G"},{"k":"m3","x":15,"y":1.92,"t":", ΔB"},{"k":"m4","x":15,"y":1.92,"t":"R"},
{"k":"v","x":465,"y":-0.18,"ye":2.61},{"k":"v","x":505,"y":-0.18,"ye":2.61},{"k":"v","x":720,"y":-0.18,"ye":2.61},{"k":"v","x":808,"y":-0.18,"ye":2.61},
{"k":"ar","x":423,"y":1.69,"xe":456,"ye":1.34},{"k":"ah","x":458,"y":1.32},{"k":"at","x":398,"y":1.94,"t":"Bᴸ + Bᴿ"}]},
"encoding":{"x":{"field":"x","type":"quantitative","scale":{"domain":[0,940],"nice":false,"zero":false},"axis":{"values":[100,200,300,400,500,600,700,800,900],"labels":false,"grid":true,"title":null}},
"y":{"field":"y","type":"quantitative","scale":{"domain":[0,2.43],"nice":false,"zero":false},"axis":{"values":[0,0.5,1,1.5,2],"format":".0f","labelExpr":"datum.value % 1 === 0 ? datum.label : ''","grid":true,"title":null,"labelPadding":9}}},
"layer":[
{"transform":[{"filter":"datum.k==='bx'"}],"mark":{"type":"rect","fill":"white"},"encoding":{"x2":{"field":"xe"},"y2":{"field":"ye"}}},
{"data":{"name":"cc"},"mark":{"type":"area","color":"#6baed6","opacity":1,"line":{"color":"#3d85c6","strokeWidth":1}}},
{"transform":[{"filter":"datum.k==='m1'"}],"mark":{"type":"text","align":"left","fontSize":15},"encoding":{"text":{"field":"t"}}},
{"transform":[{"filter":"datum.k==='m2'"}],"mark":{"type":"text","align":"left","fontSize":10,"dx":25.5,"dy":-5},"encoding":{"text":{"field":"t"}}},
{"transform":[{"filter":"datum.k==='m3'"}],"mark":{"type":"text","align":"left","fontSize":15,"dx":65},"encoding":{"text":{"field":"t"}}},
{"transform":[{"filter":"datum.k==='m4'"}],"mark":{"type":"text","align":"left","fontSize":10,"dx":92,"dy":-5},"encoding":{"text":{"field":"t"}}},
{"transform":[{"filter":"datum.k==='v'"}],"mark":{"type":"rule","strokeDash":[5,4],"color":"#111","strokeWidth":1.3},"encoding":{"y2":{"field":"ye"}}},
{"transform":[{"filter":"datum.k==='ar'"}],"mark":{"type":"rule","color":"#e31a1c","strokeWidth":1.2},"encoding":{"x2":{"field":"xe"},"y2":{"field":"ye"}}},
{"transform":[{"filter":"datum.k==='ah'"}],"mark":{"type":"point","shape":"triangle-right","size":45,"filled":true,"color":"#e31a1c","angle":40,"opacity":1}},
{"transform":[{"filter":"datum.k==='at'"}],"mark":{"type":"text","fontSize":15},"encoding":{"text":{"field":"t"}}}
]},
{"width":600,"height":96.5,
"data":{"values":[{"k":"p","x":5,"y":9,"t":"(d)"},{"k":"r","x":58,"y":45.5,"t":"ΔDᴸ:"},
{"k":"l","id":1,"o":0,"x":285,"y":66.5},{"k":"l","id":1,"o":1,"x":279,"y":90.5},{"k":"l","id":1,"o":2,"x":286,"y":90.5},
{"k":"l","id":2,"o":0,"x":329,"y":90.5},{"k":"l","id":2,"o":1,"x":335.5,"y":90.5},{"k":"l","id":2,"o":2,"x":330,"y":66.5},
{"k":"a","x":265,"xe":285,"y":66.5,"c":"b"},{"k":"a","x":330,"xe":350,"y":66.5,"c":"b"},
{"k":"x","x":275,"y":61},{"k":"x","x":340,"y":61},{"k":"k","x":307.5,"y":90.5}]},
"encoding":{"x":{"field":"x","type":"quantitative","scale":{"domain":[0,600],"nice":false,"zero":false},"axis":null},"y":{"field":"y","type":"quantitative","scale":{"domain":[0,96.5],"nice":false,"zero":false,"reverse":true},"axis":null}},
"layer":[
{"transform":[{"filter":"datum.k==='l'"}],"mark":{"type":"line","color":"#555","strokeWidth":1.3},"encoding":{"detail":{"field":"id"},"order":{"field":"o"}}},
{"data":{"name":"segR"},"mark":{"type":"rect","stroke":"#3a3a3a","strokeWidth":1},"encoding":{"x2":{"field":"xe"},"y2":{"field":"ye"},"color":{"field":"c","type":"nominal","scale":{"domain":["lt","b","c","d"],"range":["#c1d9e9","#3182bd","#6baed6","#08519c"]},"legend":null}}},
{"data":{"name":"segR"},"transform":[{"calculate":"(datum.x+datum.xe)/2","as":"xm"},{"calculate":"(datum.y+datum.ye)/2","as":"ym"}],"mark":{"type":"text","fontSize":15,"dy":1},"encoding":{"x":{"field":"xm","type":"quantitative","scale":{"domain":[0,600],"nice":false,"zero":false}},"y":{"field":"ym","type":"quantitative","scale":{"domain":[0,96.5],"nice":false,"zero":false,"reverse":true}},"text":{"field":"l"}}},
{"transform":[{"filter":"datum.k==='p'"}],"mark":{"type":"text","align":"left","fontSize":20,"fontWeight":"bold"},"encoding":{"text":{"field":"t"}}},
{"transform":[{"filter":"datum.k==='r'"}],"mark":{"type":"text","align":"right","fontSize":15},"encoding":{"text":{"field":"t"}}},
{"transform":[{"filter":"datum.k==='a'"}],"mark":{"type":"rule","strokeWidth":2.2},"encoding":{"x2":{"field":"xe"},"color":{"field":"c","type":"nominal","scale":{"domain":["lt","b","c","d"],"range":["#c1d9e9","#3182bd","#6baed6","#08519c"]},"legend":null}}},
{"transform":[{"filter":"datum.k==='x'"}],"mark":{"type":"point","shape":"M-0.45,-1L0.45,1M0.45,-1L-0.45,1","size":64,"filled":false,"stroke":"#e3001b","strokeWidth":1.3,"opacity":1}},
{"transform":[{"filter":"datum.k==='k'"}],"mark":{"type":"point","shape":"M-1,-0.24L0.45,-0.24L0.45,-0.4L1,0L0.45,0.4L0.45,0.24L-1,0.24Z","size":1936,"filled":true,"fill":"#b5b5b5","stroke":"#3c3c3c","strokeWidth":1,"opacity":1}},
{"transform":[{"filter":"datum.k==='k'"}],"mark":{"type":"text","text":"kanR","fontSize":11.5,"fontStyle":"italic","dx":-3,"color":"#222"}}
]},
{"width":565,"height":96.5,"view":{"stroke":"#bdbdbd"},
"data":{"values":[{"k":"bx","x":6,"xe":198,"y":2.2,"ye":3.5},
{"k":"m1","x":15,"y":2.7,"t":"Mte"},{"k":"m2","x":15,"y":2.7,"t":"+, 1500G"},{"k":"m3","x":15,"y":2.7,"t":", ΔD"},{"k":"m4","x":15,"y":2.7,"t":"L"},
{"k":"v","x":465,"y":-0.27,"ye":3.77},{"k":"v","x":505,"y":-0.27,"ye":3.77},{"k":"v","x":720,"y":-0.27,"ye":3.77},{"k":"v","x":808,"y":-0.27,"ye":3.77},
{"k":"ar","x":668,"y":2.42,"xe":700,"ye":1.9},{"k":"ah","x":702,"y":1.87},{"k":"at","x":649,"y":2.92,"t":"Dᴸ + Dᴿ"}]},
"encoding":{"x":{"field":"x","type":"quantitative","scale":{"domain":[0,940],"nice":false,"zero":false},"axis":{"values":[100,200,300,400,500,600,700,800,900],"labels":false,"grid":true,"title":null}},
"y":{"field":"y","type":"quantitative","scale":{"domain":[0,3.5],"nice":false,"zero":false},"axis":{"values":[0,0.5,1,1.5,2,2.5,3],"format":".0f","labelExpr":"datum.value % 1 === 0 ? datum.label : ''","grid":true,"labelPadding":9,"title":"Normalized read depth","titleFontSize":12.5,"titleFontWeight":"normal","titleColor":"#222","titleX":-37,"titleY":104,"titleBaseline":"middle","titleAlign":"center","titleAngle":-90}}},
"layer":[
{"transform":[{"filter":"datum.k==='bx'"}],"mark":{"type":"rect","fill":"white"},"encoding":{"x2":{"field":"xe"},"y2":{"field":"ye"}}},
{"data":{"name":"cd"},"mark":{"type":"area","color":"#6baed6","opacity":1,"line":{"color":"#3d85c6","strokeWidth":1}}},
{"transform":[{"filter":"datum.k==='m1'"}],"mark":{"type":"text","align":"left","fontSize":15},"encoding":{"text":{"field":"t"}}},
{"transform":[{"filter":"datum.k==='m2'"}],"mark":{"type":"text","align":"left","fontSize":10,"dx":25.5,"dy":-5},"encoding":{"text":{"field":"t"}}},
{"transform":[{"filter":"datum.k==='m3'"}],"mark":{"type":"text","align":"left","fontSize":15,"dx":65},"encoding":{"text":{"field":"t"}}},
{"transform":[{"filter":"datum.k==='m4'"}],"mark":{"type":"text","align":"left","fontSize":10,"dx":92.8,"dy":-5},"encoding":{"text":{"field":"t"}}},
{"transform":[{"filter":"datum.k==='v'"}],"mark":{"type":"rule","strokeDash":[5,4],"color":"#111","strokeWidth":1.3},"encoding":{"y2":{"field":"ye"}}},
{"transform":[{"filter":"datum.k==='ar'"}],"mark":{"type":"rule","color":"#e31a1c","strokeWidth":1.2},"encoding":{"x2":{"field":"xe"},"y2":{"field":"ye"}}},
{"transform":[{"filter":"datum.k==='ah'"}],"mark":{"type":"point","shape":"triangle-right","size":45,"filled":true,"color":"#e31a1c","angle":40,"opacity":1}},
{"transform":[{"filter":"datum.k==='at'"}],"mark":{"type":"text","fontSize":15},"encoding":{"text":{"field":"t"}}}
]},
{"width":600,"height":96.5,
"data":{"values":[{"k":"p","x":5,"y":9,"t":"(e)"},{"k":"r","x":58,"y":45.5,"t":"ΔDᴿ:"},
{"k":"l","id":1,"o":0,"x":464,"y":66.5},{"k":"l","id":1,"o":1,"x":458.5,"y":90.5},{"k":"l","id":1,"o":2,"x":465.5,"y":90.5},
{"k":"l","id":2,"o":0,"x":508.5,"y":90.5},{"k":"l","id":2,"o":1,"x":514.5,"y":90.5},{"k":"l","id":2,"o":2,"x":508,"y":66.5},
{"k":"a","x":444,"xe":464,"y":66.5,"c":"c"},{"k":"a","x":508,"xe":528,"y":66.5,"c":"lt"},
{"k":"x","x":454,"y":61},{"k":"x","x":518,"y":61},{"k":"k","x":487,"y":90.5}]},
"encoding":{"x":{"field":"x","type":"quantitative","scale":{"domain":[0,600],"nice":false,"zero":false},"axis":null},"y":{"field":"y","type":"quantitative","scale":{"domain":[0,96.5],"nice":false,"zero":false,"reverse":true},"axis":null}},
"layer":[
{"transform":[{"filter":"datum.k==='l'"}],"mark":{"type":"line","color":"#555","strokeWidth":1.3},"encoding":{"detail":{"field":"id"},"order":{"field":"o"}}},
{"data":{"name":"segR"},"mark":{"type":"rect","stroke":"#3a3a3a","strokeWidth":1},"encoding":{"x2":{"field":"xe"},"y2":{"field":"ye"},"color":{"field":"c","type":"nominal","scale":{"domain":["lt","b","c","d"],"range":["#c1d9e9","#3182bd","#6baed6","#08519c"]},"legend":null}}},
{"data":{"name":"segR"},"transform":[{"calculate":"(datum.x+datum.xe)/2","as":"xm"},{"calculate":"(datum.y+datum.ye)/2","as":"ym"}],"mark":{"type":"text","fontSize":15,"dy":1},"encoding":{"x":{"field":"xm","type":"quantitative","scale":{"domain":[0,600],"nice":false,"zero":false}},"y":{"field":"ym","type":"quantitative","scale":{"domain":[0,96.5],"nice":false,"zero":false,"reverse":true}},"text":{"field":"l"}}},
{"transform":[{"filter":"datum.k==='p'"}],"mark":{"type":"text","align":"left","fontSize":20,"fontWeight":"bold"},"encoding":{"text":{"field":"t"}}},
{"transform":[{"filter":"datum.k==='r'"}],"mark":{"type":"text","align":"right","fontSize":15},"encoding":{"text":{"field":"t"}}},
{"transform":[{"filter":"datum.k==='a'"}],"mark":{"type":"rule","strokeWidth":2.2},"encoding":{"x2":{"field":"xe"},"color":{"field":"c","type":"nominal","scale":{"domain":["lt","b","c","d"],"range":["#c1d9e9","#3182bd","#6baed6","#08519c"]},"legend":null}}},
{"transform":[{"filter":"datum.k==='x'"}],"mark":{"type":"point","shape":"M-0.45,-1L0.45,1M0.45,-1L-0.45,1","size":64,"filled":false,"stroke":"#e3001b","strokeWidth":1.3,"opacity":1}},
{"transform":[{"filter":"datum.k==='k'"}],"mark":{"type":"point","shape":"M-1,-0.24L0.45,-0.24L0.45,-0.4L1,0L0.45,0.4L0.45,0.24L-1,0.24Z","size":1936,"filled":true,"fill":"#b5b5b5","stroke":"#3c3c3c","strokeWidth":1,"opacity":1}},
{"transform":[{"filter":"datum.k==='k'"}],"mark":{"type":"text","text":"kanR","fontSize":11.5,"fontStyle":"italic","dx":-3,"color":"#222"}}
]},
{"width":565,"height":96.5,"view":{"stroke":"#bdbdbd"},
"data":{"values":[{"k":"bx","x":6,"xe":198,"y":2.2,"ye":3.5},
{"k":"m1","x":15,"y":2.71,"t":"Mte"},{"k":"m2","x":15,"y":2.71,"t":"+, 1500G"},{"k":"m3","x":15,"y":2.71,"t":", ΔD"},{"k":"m4","x":15,"y":2.71,"t":"R"},
{"k":"v","x":465,"y":-0.27,"ye":3.77},{"k":"v","x":505,"y":-0.27,"ye":3.77},{"k":"v","x":720,"y":-0.27,"ye":3.77},{"k":"v","x":808,"y":-0.27,"ye":3.77},
{"k":"ar","x":675,"y":2.24,"xe":708,"ye":1.68},{"k":"ah","x":710,"y":1.65},{"k":"at","x":662,"y":2.51,"t":"2x Dᴸ"},{"k":"st","x":765,"y":3.25}]},
"encoding":{"x":{"field":"x","type":"quantitative","scale":{"domain":[0,940],"nice":false,"zero":false},"axis":{"values":[100,200,300,400,500,600,700,800,900],"labels":false,"grid":true,"title":null}},
"y":{"field":"y","type":"quantitative","scale":{"domain":[0,3.5],"nice":false,"zero":false},"axis":{"values":[0,0.5,1,1.5,2,2.5,3],"format":".0f","labelExpr":"datum.value % 1 === 0 ? datum.label : ''","grid":true,"title":null,"labelPadding":9}}},
"layer":[
{"transform":[{"filter":"datum.k==='bx'"}],"mark":{"type":"rect","fill":"white"},"encoding":{"x2":{"field":"xe"},"y2":{"field":"ye"}}},
{"data":{"name":"ce"},"mark":{"type":"area","color":"#6baed6","opacity":1,"line":{"color":"#3d85c6","strokeWidth":1}}},
{"transform":[{"filter":"datum.k==='m1'"}],"mark":{"type":"text","align":"left","fontSize":15},"encoding":{"text":{"field":"t"}}},
{"transform":[{"filter":"datum.k==='m2'"}],"mark":{"type":"text","align":"left","fontSize":10,"dx":25.5,"dy":-5},"encoding":{"text":{"field":"t"}}},
{"transform":[{"filter":"datum.k==='m3'"}],"mark":{"type":"text","align":"left","fontSize":15,"dx":65},"encoding":{"text":{"field":"t"}}},
{"transform":[{"filter":"datum.k==='m4'"}],"mark":{"type":"text","align":"left","fontSize":10,"dx":92.8,"dy":-5},"encoding":{"text":{"field":"t"}}},
{"transform":[{"filter":"datum.k==='v'"}],"mark":{"type":"rule","strokeDash":[5,4],"color":"#111","strokeWidth":1.3},"encoding":{"y2":{"field":"ye"}}},
{"transform":[{"filter":"datum.k==='ar'"}],"mark":{"type":"rule","color":"#e31a1c","strokeWidth":1.2},"encoding":{"x2":{"field":"xe"},"y2":{"field":"ye"}}},
{"transform":[{"filter":"datum.k==='ah'"}],"mark":{"type":"point","shape":"triangle-right","size":45,"filled":true,"color":"#e31a1c","angle":40,"opacity":1}},
{"transform":[{"filter":"datum.k==='at'"}],"mark":{"type":"text","fontSize":15},"encoding":{"text":{"field":"t"}}},
{"transform":[{"filter":"datum.k==='st'"}],"mark":{"type":"text","text":"*","fontSize":30,"fontWeight":"bold","color":"#2f8a2a","baseline":"alphabetic","dy":17}}
]},
{"width":600,"height":96.5,
"data":{"values":[{"k":"p","x":5,"y":9,"t":"(f)"},{"k":"r","x":58,"y":45.5,"t":"ΔBᴸ³ʹ:"},
{"k":"l","id":1,"o":0,"x":277,"y":66.5},{"k":"l","id":1,"o":1,"x":241,"y":90.5},{"k":"l","id":1,"o":2,"x":254.5,"y":90.5},
{"k":"l","id":2,"o":0,"x":297.5,"y":90.5},{"k":"l","id":2,"o":1,"x":306,"y":90.5},{"k":"l","id":2,"o":2,"x":285,"y":66.5},
{"k":"a","x":258,"xe":277,"y":66.5,"c":"b"},{"k":"a","x":285,"xe":305,"y":66.5,"c":"d"},
{"k":"x","x":268,"y":61},{"k":"x","x":295,"y":61},{"k":"k","x":276,"y":90.5}]},
"encoding":{"x":{"field":"x","type":"quantitative","scale":{"domain":[0,600],"nice":false,"zero":false},"axis":null},"y":{"field":"y","type":"quantitative","scale":{"domain":[0,96.5],"nice":false,"zero":false,"reverse":true},"axis":null}},
"layer":[
{"transform":[{"filter":"datum.k==='l'"}],"mark":{"type":"line","color":"#555","strokeWidth":1.3},"encoding":{"detail":{"field":"id"},"order":{"field":"o"}}},
{"data":{"name":"segR"},"mark":{"type":"rect","stroke":"#3a3a3a","strokeWidth":1},"encoding":{"x2":{"field":"xe"},"y2":{"field":"ye"},"color":{"field":"c","type":"nominal","scale":{"domain":["lt","b","c","d"],"range":["#c1d9e9","#3182bd","#6baed6","#08519c"]},"legend":null}}},
{"data":{"name":"segR"},"transform":[{"calculate":"(datum.x+datum.xe)/2","as":"xm"},{"calculate":"(datum.y+datum.ye)/2","as":"ym"}],"mark":{"type":"text","fontSize":15,"dy":1},"encoding":{"x":{"field":"xm","type":"quantitative","scale":{"domain":[0,600],"nice":false,"zero":false}},"y":{"field":"ym","type":"quantitative","scale":{"domain":[0,96.5],"nice":false,"zero":false,"reverse":true}},"text":{"field":"l"}}},
{"transform":[{"filter":"datum.k==='p'"}],"mark":{"type":"text","align":"left","fontSize":20,"fontWeight":"bold"},"encoding":{"text":{"field":"t"}}},
{"transform":[{"filter":"datum.k==='r'"}],"mark":{"type":"text","align":"right","fontSize":15},"encoding":{"text":{"field":"t"}}},
{"transform":[{"filter":"datum.k==='a'"}],"mark":{"type":"rule","strokeWidth":2.2},"encoding":{"x2":{"field":"xe"},"color":{"field":"c","type":"nominal","scale":{"domain":["lt","b","c","d"],"range":["#c1d9e9","#3182bd","#6baed6","#08519c"]},"legend":null}}},
{"transform":[{"filter":"datum.k==='x'"}],"mark":{"type":"point","shape":"M-0.45,-1L0.45,1M0.45,-1L-0.45,1","size":64,"filled":false,"stroke":"#e3001b","strokeWidth":1.3,"opacity":1}},
{"transform":[{"filter":"datum.k==='k'"}],"mark":{"type":"point","shape":"M-1,-0.24L0.45,-0.24L0.45,-0.4L1,0L0.45,0.4L0.45,0.24L-1,0.24Z","size":1936,"filled":true,"fill":"#b5b5b5","stroke":"#3c3c3c","strokeWidth":1,"opacity":1}},
{"transform":[{"filter":"datum.k==='k'"}],"mark":{"type":"text","text":"kanR","fontSize":11.5,"fontStyle":"italic","dx":-3,"color":"#222"}}
]},
{"width":565,"height":96.5,"view":{"stroke":"#bdbdbd"},
"data":{"values":[{"k":"bx","x":6,"xe":215,"y":1.42,"ye":2.43},
{"k":"m1","x":15,"y":1.83,"t":"Mte"},{"k":"m2","x":15,"y":1.83,"t":"+, 2000G"},{"k":"m3","x":15,"y":1.83,"t":", ΔB"},{"k":"m4","x":15,"y":1.83,"t":"L3'"},
{"k":"v","x":465,"y":-0.18,"ye":2.61},{"k":"v","x":505,"y":-0.18,"ye":2.61},{"k":"v","x":720,"y":-0.18,"ye":2.61},{"k":"v","x":808,"y":-0.18,"ye":2.61},
{"k":"ar","x":423,"y":1.72,"xe":456,"ye":1.33},{"k":"ah","x":458,"y":1.3},{"k":"at","x":393,"y":2.0,"t":"Bᴸ⁵ʹ + Bᴿ"},{"k":"st","x":489,"y":2.17}]},
"encoding":{"x":{"field":"x","type":"quantitative","scale":{"domain":[0,940],"nice":false,"zero":false},"axis":{"values":[100,200,300,400,500,600,700,800,900],"labels":false,"grid":true,"title":null}},
"y":{"field":"y","type":"quantitative","scale":{"domain":[0,2.43],"nice":false,"zero":false},"axis":{"values":[0,0.5,1,1.5,2],"format":".0f","labelExpr":"datum.value % 1 === 0 ? datum.label : ''","grid":true,"title":null,"labelPadding":9}}},
"layer":[
{"transform":[{"filter":"datum.k==='bx'"}],"mark":{"type":"rect","fill":"white"},"encoding":{"x2":{"field":"xe"},"y2":{"field":"ye"}}},
{"data":{"name":"cf"},"mark":{"type":"area","color":"#6baed6","opacity":1,"line":{"color":"#3d85c6","strokeWidth":1}}},
{"transform":[{"filter":"datum.k==='m1'"}],"mark":{"type":"text","align":"left","fontSize":15},"encoding":{"text":{"field":"t"}}},
{"transform":[{"filter":"datum.k==='m2'"}],"mark":{"type":"text","align":"left","fontSize":10,"dx":25.5,"dy":-5},"encoding":{"text":{"field":"t"}}},
{"transform":[{"filter":"datum.k==='m3'"}],"mark":{"type":"text","align":"left","fontSize":15,"dx":65},"encoding":{"text":{"field":"t"}}},
{"transform":[{"filter":"datum.k==='m4'"}],"mark":{"type":"text","align":"left","fontSize":10,"dx":92,"dy":-5},"encoding":{"text":{"field":"t"}}},
{"transform":[{"filter":"datum.k==='v'"}],"mark":{"type":"rule","strokeDash":[5,4],"color":"#111","strokeWidth":1.3},"encoding":{"y2":{"field":"ye"}}},
{"transform":[{"filter":"datum.k==='ar'"}],"mark":{"type":"rule","color":"#e31a1c","strokeWidth":1.2},"encoding":{"x2":{"field":"xe"},"y2":{"field":"ye"}}},
{"transform":[{"filter":"datum.k==='ah'"}],"mark":{"type":"point","shape":"triangle-right","size":45,"filled":true,"color":"#e31a1c","angle":40,"opacity":1}},
{"transform":[{"filter":"datum.k==='at'"}],"mark":{"type":"text","fontSize":15},"encoding":{"text":{"field":"t"}}},
{"transform":[{"filter":"datum.k==='st'"}],"mark":{"type":"text","text":"*","fontSize":30,"fontWeight":"bold","color":"#2f8a2a","baseline":"alphabetic","dy":17}}
]},
{"width":600,"height":96.5,
"data":{"values":[{"k":"p","x":5,"y":9,"t":"(g)"},{"k":"r","x":58,"y":45.5,"t":"ΔDᴿ:"},
{"k":"l","id":1,"o":0,"x":463,"y":66.5},{"k":"l","id":1,"o":1,"x":457.5,"y":90.5},{"k":"l","id":1,"o":2,"x":464.5,"y":90.5},
{"k":"l","id":2,"o":0,"x":507.5,"y":90.5},{"k":"l","id":2,"o":1,"x":513.5,"y":90.5},{"k":"l","id":2,"o":2,"x":508,"y":66.5},
{"k":"a","x":443,"xe":463,"y":66.5,"c":"c"},{"k":"a","x":508,"xe":528,"y":66.5,"c":"lt"},
{"k":"x","x":453,"y":61},{"k":"x","x":518,"y":61},{"k":"k","x":486,"y":90.5}]},
"encoding":{"x":{"field":"x","type":"quantitative","scale":{"domain":[0,600],"nice":false,"zero":false},"axis":null},"y":{"field":"y","type":"quantitative","scale":{"domain":[0,96.5],"nice":false,"zero":false,"reverse":true},"axis":null}},
"layer":[
{"transform":[{"filter":"datum.k==='l'"}],"mark":{"type":"line","color":"#555","strokeWidth":1.3},"encoding":{"detail":{"field":"id"},"order":{"field":"o"}}},
{"data":{"name":"segR"},"mark":{"type":"rect","stroke":"#3a3a3a","strokeWidth":1},"encoding":{"x2":{"field":"xe"},"y2":{"field":"ye"},"color":{"field":"c","type":"nominal","scale":{"domain":["lt","b","c","d"],"range":["#c1d9e9","#3182bd","#6baed6","#08519c"]},"legend":null}}},
{"data":{"name":"segR"},"transform":[{"calculate":"(datum.x+datum.xe)/2","as":"xm"},{"calculate":"(datum.y+datum.ye)/2","as":"ym"}],"mark":{"type":"text","fontSize":15,"dy":1},"encoding":{"x":{"field":"xm","type":"quantitative","scale":{"domain":[0,600],"nice":false,"zero":false}},"y":{"field":"ym","type":"quantitative","scale":{"domain":[0,96.5],"nice":false,"zero":false,"reverse":true}},"text":{"field":"l"}}},
{"transform":[{"filter":"datum.k==='p'"}],"mark":{"type":"text","align":"left","fontSize":20,"fontWeight":"bold"},"encoding":{"text":{"field":"t"}}},
{"transform":[{"filter":"datum.k==='r'"}],"mark":{"type":"text","align":"right","fontSize":15},"encoding":{"text":{"field":"t"}}},
{"transform":[{"filter":"datum.k==='a'"}],"mark":{"type":"rule","strokeWidth":2.2},"encoding":{"x2":{"field":"xe"},"color":{"field":"c","type":"nominal","scale":{"domain":["lt","b","c","d"],"range":["#c1d9e9","#3182bd","#6baed6","#08519c"]},"legend":null}}},
{"transform":[{"filter":"datum.k==='x'"}],"mark":{"type":"point","shape":"M-0.45,-1L0.45,1M0.45,-1L-0.45,1","size":64,"filled":false,"stroke":"#e3001b","strokeWidth":1.3,"opacity":1}},
{"transform":[{"filter":"datum.k==='k'"}],"mark":{"type":"point","shape":"M-1,-0.24L0.45,-0.24L0.45,-0.4L1,0L0.45,0.4L0.45,0.24L-1,0.24Z","size":1936,"filled":true,"fill":"#b5b5b5","stroke":"#3c3c3c","strokeWidth":1,"opacity":1}},
{"transform":[{"filter":"datum.k==='k'"}],"mark":{"type":"text","text":"kanR","fontSize":11.5,"fontStyle":"italic","dx":-3,"color":"#222"}}
]},
{"width":565,"height":96.5,"view":{"stroke":"#bdbdbd"},
"data":{"values":[{"k":"bx","x":6,"xe":198,"y":1.42,"ye":2.43},
{"k":"m1","x":15,"y":1.84,"t":"Mte"},{"k":"m2","x":15,"y":1.84,"t":"+, 2000G"},{"k":"m3","x":15,"y":1.84,"t":", ΔD"},{"k":"m4","x":15,"y":1.84,"t":"R"},
{"k":"v","x":465,"y":0,"ye":2.61},{"k":"v","x":505,"y":0,"ye":2.61},{"k":"v","x":720,"y":0,"ye":2.61},{"k":"v","x":808,"y":0,"ye":2.61},
{"k":"h","x":465,"xe":505,"y":0},{"k":"h","x":720,"xe":808,"y":0},
{"k":"ar","x":675,"y":1.72,"xe":708,"ye":1.37},{"k":"ah","x":710,"y":1.34},{"k":"at","x":678,"y":1.95,"t":"Dᴸ"},{"k":"st","x":765,"y":2.18}]},
"encoding":{"x":{"field":"x","type":"quantitative","scale":{"domain":[0,940],"nice":false,"zero":false},"axis":{"values":[100,200,300,400,500,600,700,800,900],"labels":false,"grid":true,"title":null}},
"y":{"field":"y","type":"quantitative","scale":{"domain":[0,2.43],"nice":false,"zero":false},"axis":{"values":[0,0.5,1,1.5,2],"format":".0f","labelExpr":"datum.value % 1 === 0 ? datum.label : ''","grid":true,"title":null,"labelPadding":9}}},
"layer":[
{"transform":[{"filter":"datum.k==='bx'"}],"mark":{"type":"rect","fill":"white"},"encoding":{"x2":{"field":"xe"},"y2":{"field":"ye"}}},
{"data":{"name":"cg"},"mark":{"type":"area","color":"#6baed6","opacity":1,"line":{"color":"#3d85c6","strokeWidth":1}}},
{"transform":[{"filter":"datum.k==='m1'"}],"mark":{"type":"text","align":"left","fontSize":15},"encoding":{"text":{"field":"t"}}},
{"transform":[{"filter":"datum.k==='m2'"}],"mark":{"type":"text","align":"left","fontSize":10,"dx":25.5,"dy":-5},"encoding":{"text":{"field":"t"}}},
{"transform":[{"filter":"datum.k==='m3'"}],"mark":{"type":"text","align":"left","fontSize":15,"dx":65},"encoding":{"text":{"field":"t"}}},
{"transform":[{"filter":"datum.k==='m4'"}],"mark":{"type":"text","align":"left","fontSize":10,"dx":92.8,"dy":-5},"encoding":{"text":{"field":"t"}}},
{"transform":[{"filter":"datum.k==='v'"}],"mark":{"type":"rule","strokeDash":[5,4],"color":"#111","strokeWidth":1.3},"encoding":{"y2":{"field":"ye"}}},
{"transform":[{"filter":"datum.k==='h'"}],"mark":{"type":"rule","strokeDash":[5,4],"color":"#111","strokeWidth":1.3},"encoding":{"x2":{"field":"xe"}}},
{"transform":[{"filter":"datum.k==='ar'"}],"mark":{"type":"rule","color":"#e31a1c","strokeWidth":1.2},"encoding":{"x2":{"field":"xe"},"y2":{"field":"ye"}}},
{"transform":[{"filter":"datum.k==='ah'"}],"mark":{"type":"point","shape":"triangle-right","size":45,"filled":true,"color":"#e31a1c","angle":40,"opacity":1}},
{"transform":[{"filter":"datum.k==='at'"}],"mark":{"type":"text","fontSize":15},"encoding":{"text":{"field":"t"}}},
{"transform":[{"filter":"datum.k==='st'"}],"mark":{"type":"text","text":"*","fontSize":30,"fontWeight":"bold","color":"#2f8a2a","baseline":"alphabetic","dy":17}}
]}
]
}
]
}
